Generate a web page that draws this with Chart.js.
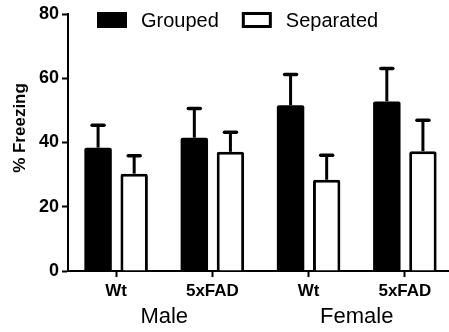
<!DOCTYPE html>
<html>
<head>
<meta charset="utf-8">
<script src="https://cdn.jsdelivr.net/npm/chart.js@4/dist/chart.umd.min.js"></script>
<style>
  html, body { margin: 0; padding: 0; background: #fff; overflow: hidden; }
  #wrap { width: 453px; height: 332px; position: relative; }
</style>
</head>
<body>
<div id="wrap"><canvas id="freezingChart"></canvas></div>
<script>
// genotype labels under each bar pair, and the sex label under each pair of pairs
const genotypes = ["Wt", "5xFAD", "Wt", "5xFAD"];
const sexes = ["Male", "Female"];

// mean % freezing and SEM
const groupedMean = [38.4, 41.5, 51.6, 52.8];
const groupedSem = [7.0, 9.1, 9.6, 10.2];
const separatedMean = [30.3, 37.1, 28.4, 37.3];
const separatedSem = [5.6, 6.1, 7.6, 9.6];

const yTicks = [0, 20, 40, 60, 80];
const yTitle = "% Freezing";

const FONT = "'Liberation Sans', Arial, Helvetica, sans-serif";

// upward-only error bars with a cap, drawn from the bar elements and y scale
const errorBars = {
    id: "errorBars",
    afterDatasetsDraw(chart) {
        const ctx = chart.ctx;
        const y = chart.scales.y;
        chart.data.datasets.forEach((ds, di) => {
            const meta = chart.getDatasetMeta(di);
            meta.data.forEach((bar, i) => {
                const top = y.getPixelForValue(ds.data[i] + ds.sem[i]);
                ctx.save();
                ctx.strokeStyle = "#000";
                ctx.lineWidth = 3;
                ctx.beginPath();
                ctx.moveTo(bar.x, bar.y);
                ctx.lineTo(bar.x, top);
                ctx.stroke();
                ctx.lineWidth = 3.5;
                ctx.lineCap = "round";
                ctx.beginPath();
                ctx.moveTo(bar.x - 6, top);
                ctx.lineTo(bar.x + 6, top);
                ctx.stroke();
                ctx.restore();
            });
        });
    }
};

// legend sits inside the plot area at the top, and the y title is drawn by hand
const overlay = {
    id: "overlay",
    afterDraw(chart) {
        const ctx = chart.ctx;
        const area = chart.chartArea;
        ctx.save();
        ctx.font = "20px " + FONT;
        ctx.textBaseline = "middle";
        ctx.textAlign = "left";
        let x = area.left + 29;
        const yMid = area.top + 6;
        chart.data.datasets.forEach(ds => {
            ctx.fillStyle = ds.backgroundColor;
            ctx.fillRect(x, yMid - 8, 30, 16);
            if (ds.borderWidth) {
                ctx.strokeStyle = "#000";
                ctx.lineWidth = 3;
                ctx.strokeRect(x + 1.5, yMid - 6.5, 27, 13);
            }
            ctx.fillStyle = "#000";
            ctx.fillText(ds.label, x + 44, yMid + 1);
            x += 44 + ctx.measureText(ds.label).width + 23;
        });

        ctx.font = "bold 17px " + FONT;
        ctx.textAlign = "center";
        ctx.translate(20, area.top + 114);
        ctx.rotate(-Math.PI / 2);
        ctx.fillText(yTitle, 0, 0);
        ctx.restore();
    }
};

new Chart(document.getElementById("freezingChart"), {
    type: "bar",
    data: {
        labels: genotypes,
        datasets: [
            {
                label: "Grouped",
                data: groupedMean,
                sem: groupedSem,
                backgroundColor: "#000",
                borderWidth: 0,
                borderRadius: 2,
            },
            {
                label: "Separated",
                data: separatedMean,
                sem: separatedSem,
                backgroundColor: "#fff",
                borderColor: "#000",
                borderWidth: 3,
                borderRadius: 2,
            },
        ],
    },
    options: {
        responsive: true,
        maintainAspectRatio: false,
        animation: false,
        categoryPercentage: 0.75,
        barPercentage: 0.76,
        layout: { padding: { top: 14, left: 0, right: 0, bottom: 0 } },
        plugins: {
            legend: { display: false },
            tooltip: { enabled: false },
        },
        scales: {
            x: {
                offset: true,
                grid: {
                    offset: false,
                    drawOnChartArea: false,
                    color: "#000",
                    tickLength: 6,
                    tickWidth: 2,
                },
                border: { color: "#000", width: 2 },
                ticks: {
                    color: "#000",
                    padding: 4,
                    font: { family: FONT, size: 17, weight: "bold" },
                    maxRotation: 0,
                },
                afterFit(scale) { scale.height = 33; },
            },
            sex: {
                type: "category",
                position: "bottom",
                labels: sexes,
                offset: true,
                grid: { display: false, drawTicks: false },
                border: { display: false },
                ticks: {
                    color: "#000",
                    padding: 0,
                    font: { family: FONT, size: 22 },
                    maxRotation: 0,
                },
                afterFit(scale) { scale.height = 28; },
            },
            y: {
                min: 0,
                max: 80,
                afterBuildTicks(scale) { scale.ticks = yTicks.map(v => ({ value: v })); },
                grid: {
                    drawOnChartArea: false,
                    color: "#000",
                    tickLength: 6,
                    tickWidth: 2,
                },
                border: { color: "#000", width: 2 },
                ticks: {
                    color: "#000",
                    padding: 3,
                    font: { family: FONT, size: 18, weight: "bold" },
                },
                afterFit(scale) { scale.width = 68; },
            },
        },
    },
    plugins: [errorBars, overlay],
});
</script>
</body>
</html>
